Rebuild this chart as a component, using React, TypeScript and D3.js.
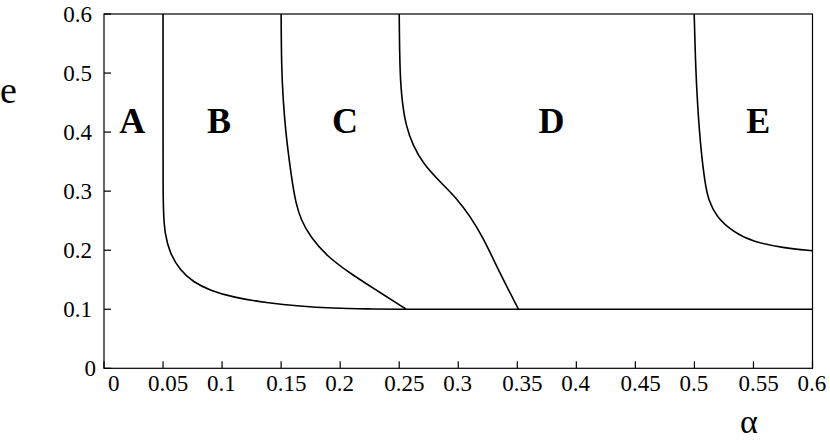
import React from "react";
import * as d3 from "d3";

const W = 830;
const H = 443;

const xTicks = [0, 0.05, 0.1, 0.15, 0.2, 0.25, 0.3, 0.35, 0.4, 0.45, 0.5, 0.55, 0.6];
const yTicks = [0, 0.1, 0.2, 0.3, 0.4, 0.5, 0.6];

// boundary curves: [alpha, e]
const curveAB: [number, number][] = [
  [0.05, 0.6], [0.05, 0.4], [0.05, 0.3], [0.0504, 0.26], [0.0516, 0.228], [0.0555, 0.196],
  [0.0643, 0.166], [0.0756, 0.146], [0.0897, 0.132], [0.1095, 0.12], [0.1377, 0.111],
  [0.166, 0.105], [0.194, 0.1017], [0.222, 0.1005], [0.256, 0.1],
];
const curveBC: [number, number][] = [
  [0.15, 0.6], [0.1503, 0.511], [0.1517, 0.454], [0.154, 0.398], [0.1568, 0.353],
  [0.1598, 0.31], [0.1625, 0.28], [0.1668, 0.251], [0.1748, 0.2226], [0.1886, 0.19],
  [0.2083, 0.161], [0.2309, 0.132], [0.256, 0.1],
];
const curveCD: [number, number][] = [
  [0.25, 0.6], [0.2505, 0.5], [0.2525, 0.45], [0.2558, 0.41], [0.2615, 0.378],
  [0.2704, 0.346], [0.2845, 0.316], [0.2986, 0.288], [0.3099, 0.258], [0.3212, 0.221],
  [0.335, 0.162], [0.351, 0.1],
];
const curveDE: [number, number][] = [
  [0.4998, 0.6], [0.501, 0.511], [0.5027, 0.443], [0.5055, 0.369], [0.509, 0.313],
  [0.5118, 0.285], [0.5187, 0.256], [0.5328, 0.231], [0.5497, 0.214], [0.575, 0.204],
  [0.6, 0.199],
];
const baseLine: [number, number][] = [[0.256, 0.1], [0.6, 0.1]];

const regionLabels = ["A", "B", "C", "D", "E"];
const regionAlpha = [0.024, 0.0975, 0.204, 0.379, 0.554];
const regionE = [0.4, 0.4, 0.4, 0.4, 0.4];

const serif = "'Liberation Serif', 'Times New Roman', 'DejaVu Serif', serif";

export default function App() {
  const x = d3.scaleLinear().domain([0, 0.6]).range([104, 812.5]);
  const y = d3.scaleLinear().domain([0, 0.6]).range([368.3, 14]);
  const line = d3
    .line<[number, number]>()
    .x((d) => x(d[0]))
    .y((d) => y(d[1]))
    .curve(d3.curveBasis);
  const straight = d3
    .line<[number, number]>()
    .x((d) => x(d[0]))
    .y((d) => y(d[1]));

  const [x0, x1] = x.range();
  const [yb, yt] = y.range();
  const txt = { fontFamily: serif };

  return (
    <svg
      width={W}
      height={H}
      style={{ position: "absolute", left: 0, top: 0, background: "#fff" }}
    >
      <rect x={0} y={0} width={W} height={H} fill="#fff" />
      <rect x={x0} y={yt} width={x1 - x0} height={yb - yt} fill="none" stroke="#000" strokeWidth={1.2} />
      {xTicks.map((t, i) => (
        <g key={"xt" + i}>
          <line x1={x(t)} x2={x(t)} y1={yb} y2={yb - 7} stroke="#000" strokeWidth={1.2} />
          <text
            x={t === 0 ? x(t) + 4 : x(t) - 15}
            y={391}
            fontSize={23}
            textAnchor="start"
            fill="#000"
            style={txt}
          >
            {t === 0 ? "0" : String(t)}
          </text>
        </g>
      ))}
      {yTicks.map((t, i) => (
        <g key={"yt" + i}>
          <line x1={x0} x2={x0 + 7} y1={y(t)} y2={y(t)} stroke="#000" strokeWidth={1.2} />
          <text
            x={t === 0 ? 96 : 92}
            y={y(t) + 7.5}
            fontSize={23}
            textAnchor="end"
            fill="#000"
            style={txt}
          >
            {t === 0 ? "0" : String(t)}
          </text>
        </g>
      ))}
      {[curveAB, curveBC, curveCD, curveDE].map((c, i) => (
        <path key={"c" + i} d={line(c) || ""} fill="none" stroke="#000" strokeWidth={1.6} />
      ))}
      <path d={straight(baseLine) || ""} fill="none" stroke="#000" strokeWidth={1.6} />
      {regionLabels.map((l, i) => (
        <text
          key={"r" + i}
          x={x(regionAlpha[i])}
          y={y(regionE[i]) + 1}
          fontSize={36}
          fontWeight="bold"
          textAnchor="middle"
          fill="#000"
          style={txt}
        >
          {l}
        </text>
      ))}
      <text x={0} y={103} fontSize={38} fill="#000" style={txt}>
        e
      </text>
      <text x={749} y={433} fontSize={34} textAnchor="middle" fill="#000" style={txt}>
        α
      </text>
    </svg>
  );
}
